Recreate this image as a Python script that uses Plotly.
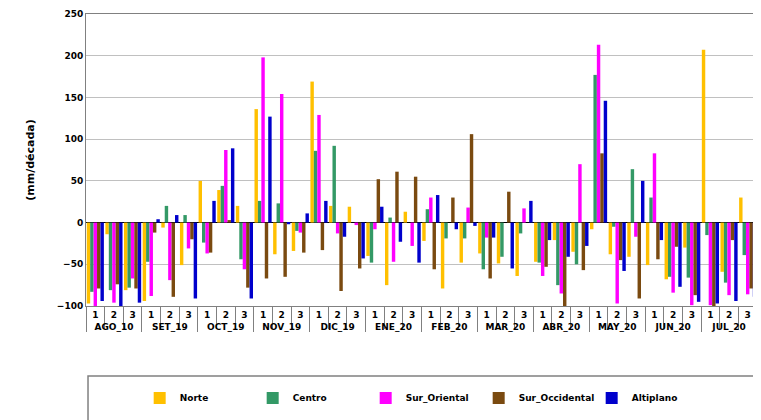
import plotly.graph_objects as go

months = ["AGO_10", "SET_19", "OCT_19", "NOV_19", "DIC_19", "ENE_20",
          "FEB_20", "MAR_20", "ABR_20", "MAY_20", "JUN_20", "JUL_20"]
dekads = ["1", "2", "3"]

norte = [-97, -14, -81, -94, -6, -51, 50, 39, 20, 136, -38, -34,
         169, 20, 19, -40, -75, 13, -22, -79, -48, -37, -49, -64,
         -47, -21, -35, -8, -38, -41, -51, -68, -30, 207, -59, 30]
centro = [-83, -81, -78, -47, 20, 9, -24, 44, -44, 26, 23, -10,
          86, 92, 0, -48, 6, 0, 16, -19, -19, -56, -41, -13,
          -48, -75, -50, 177, -5, 64, 30, -65, -66, -15, -72, -39]
sur_oriental = [-100, -96, -67, -88, -69, -31, -37, 87, -56, 198, 154, -12,
                129, -13, -3, -8, -47, -28, 30, 0, 18, -18, 0, 17,
                -64, -85, 70, 213, -97, -17, 83, -84, -99, -99, -87, -86]
sur_occidental = [-79, -74, -79, -12, -89, -20, -36, 3, -78, -67, -65, -36,
                  -33, -82, -55, 52, 61, 55, -56, 30, 106, -67, 37, 0,
                  -53, -100, -57, 83, -45, -91, -44, -29, -87, -100, -21, -79]
altiplano = [-94, -100, -96, 4, 9, -91, 26, 89, -91, 127, -2, 11,
             26, -17, -43, 19, -23, -48, 33, -8, -4, -18, -55, 26,
             -21, -41, -28, 146, -58, 50, -21, -77, -95, -97, -94, -89]

series = [
    ("Norte", norte, "#FFC000"),
    ("Centro", centro, "#339966"),
    ("Sur_Oriental", sur_oriental, "#FF00FF"),
    ("Sur_Occidental", sur_occidental, "#7A4A10"),
    ("Altiplano", altiplano, "#0000CC"),
]

x_outer = [m for m in months for _ in dekads]
x_inner = [d for _ in months for d in dekads]

fig = go.Figure()
for name, vals, color in series:
    fig.add_trace(go.Bar(x=[x_outer, x_inner], y=vals, name=name,
                         marker=dict(color=color, line=dict(width=0))))

font = dict(family="DejaVu Sans", size=9, color="#000000", weight="bold")

fig.update_layout(
    width=761, height=420,
    margin=dict(l=78, r=12, t=6, b=122, autoexpand=False),
    paper_bgcolor="white", plot_bgcolor="white",
    barmode="group", bargap=0.08, bargroupgap=0,
    font=font,
    showlegend=True,
    legend=dict(orientation="h", x=0.08, y=-0.315, xanchor="left", yanchor="middle",
                entrywidthmode="pixels", entrywidth=68, font=font,
                bgcolor="rgba(0,0,0,0)"),
    xaxis=dict(type="multicategory", showline=True, linecolor="#808080",
               tickfont=font, showdividers=True, dividercolor="#808080",
               ticks="outside", tickson="boundaries", ticklen=22, tickcolor="#808080",
               mirror=True, automargin=False),
    yaxis=dict(range=[-100, 250], dtick=50, showgrid=True, gridcolor="#C0C0C0",
               zeroline=True, zerolinecolor="#000000", zerolinewidth=1,
               showline=True, linecolor="#808080", tickfont=font, mirror=True,
               automargin=False,
               title=dict(text="(mm/década)", standoff=20,
                          font=dict(family="DejaVu Sans", size=11,
                                    color="#000000", weight="bold"))),
    shapes=[dict(type="rect", xref="paper", yref="paper",
                 x0=0.003, x1=1.02, y0=-0.42, y1=-0.24,
                 line=dict(color="#808080", width=1.5), fillcolor="rgba(0,0,0,0)")],
)

fig.write_html("out.html")
